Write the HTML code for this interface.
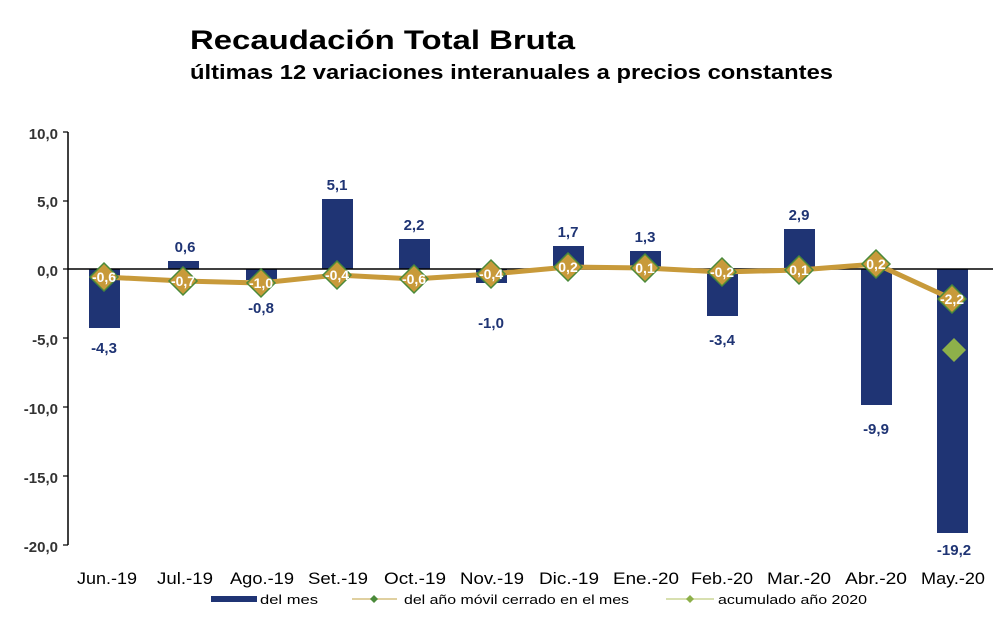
<!DOCTYPE html>
<html><head><meta charset="utf-8"><style>
body{margin:0;background:#fff;}
svg text{font-family:"Liberation Sans",Arial,sans-serif;}
</style></head><body>
<svg width="1000" height="618" xmlns="http://www.w3.org/2000/svg">
<text x="190" y="49" font-size="27" font-weight="bold" fill="#000" textLength="385" lengthAdjust="spacingAndGlyphs">Recaudación Total Bruta</text>
<text x="190" y="79" font-size="20" font-weight="bold" fill="#000" textLength="643" lengthAdjust="spacingAndGlyphs">últimas 12 variaciones interanuales a precios constantes</text>
<g font-size="15" font-weight="bold" fill="#333" text-anchor="end">
<text x="58" y="139">10,0</text><text x="58" y="207">5,0</text><text x="58" y="276">0,0</text>
<text x="58" y="345">-5,0</text><text x="58" y="414">-10,0</text><text x="58" y="483">-15,0</text><text x="58" y="552">-20,0</text>
</g>
<line x1="68" y1="132" x2="68" y2="545" stroke="#000" stroke-width="1.5"/>
<g stroke="#000" stroke-width="1.2">
<line x1="63" y1="132" x2="68" y2="132"/><line x1="63" y1="201" x2="68" y2="201"/><line x1="63" y1="269" x2="68" y2="269"/><line x1="63" y1="338" x2="68" y2="338"/><line x1="63" y1="407" x2="68" y2="407"/><line x1="63" y1="476" x2="68" y2="476"/><line x1="63" y1="545" x2="68" y2="545"/>
</g>
<g fill="#1f3474">
<rect x="89" y="269" width="31" height="59"/>
<rect x="168" y="261" width="31" height="8"/>
<rect x="246" y="269" width="31" height="11"/>
<rect x="322" y="199" width="31" height="70"/>
<rect x="399" y="239" width="31" height="30"/>
<rect x="476" y="269" width="31" height="14"/>
<rect x="553" y="246" width="31" height="23"/>
<rect x="630" y="251" width="31" height="18"/>
<rect x="707" y="269" width="31" height="47"/>
<rect x="784" y="229" width="31" height="40"/>
<rect x="861" y="269" width="31" height="136"/>
<rect x="937" y="269" width="31" height="264"/>
</g>
<line x1="68" y1="269" x2="993" y2="269" stroke="#000" stroke-width="1.5"/>
<polyline fill="none" stroke="#c89a3a" stroke-width="5" points="104,277 183,281 261,283 337,275 414,279 491,274 568,267 645,268 722,272 799,270 876,264 952,299"/>
<g fill="#c89a3a" stroke="#4a8a3a" stroke-width="1.5">
<path d="M104,263 l14,14 l-14,14 l-14,-14z"/><path d="M183,267 l14,14 l-14,14 l-14,-14z"/><path d="M261,269 l14,14 l-14,14 l-14,-14z"/><path d="M337,261 l14,14 l-14,14 l-14,-14z"/><path d="M414,265 l14,14 l-14,14 l-14,-14z"/><path d="M491,260 l14,14 l-14,14 l-14,-14z"/><path d="M568,253 l14,14 l-14,14 l-14,-14z"/><path d="M645,254 l14,14 l-14,14 l-14,-14z"/><path d="M722,258 l14,14 l-14,14 l-14,-14z"/><path d="M799,256 l14,14 l-14,14 l-14,-14z"/><path d="M876,250 l14,14 l-14,14 l-14,-14z"/><path d="M952,285 l14,14 l-14,14 l-14,-14z"/>
</g>
<path d="M954,338 l12,12 l-12,12 l-12,-12z" fill="#8db04a"/>
<g font-size="14" font-weight="bold" fill="#fff" text-anchor="middle">
<text x="104" y="282">-0,6</text><text x="183" y="286">-0,7</text><text x="261" y="288">-1,0</text><text x="337" y="280">-0,4</text><text x="414" y="284">-0,6</text><text x="491" y="279">-0,4</text><text x="568" y="272">0,2</text><text x="645" y="273">0,1</text><text x="722" y="277">-0,2</text><text x="799" y="275">0,1</text><text x="876" y="269">0,2</text><text x="952" y="304">-2,2</text>
</g>
<g font-size="15" font-weight="bold" fill="#1f3474" text-anchor="middle">
<text x="104" y="353">-4,3</text><text x="185" y="252">0,6</text><text x="261" y="313">-0,8</text><text x="337" y="190">5,1</text><text x="414" y="230">2,2</text><text x="491" y="328">-1,0</text><text x="568" y="237">1,7</text><text x="645" y="242">1,3</text><text x="722" y="345">-3,4</text><text x="799" y="220">2,9</text><text x="876" y="434">-9,9</text><text x="954" y="555">-19,2</text>
</g>
<g font-size="17" fill="#000" text-anchor="middle">
<text x="107" y="584" textLength="60" lengthAdjust="spacingAndGlyphs">Jun.-19</text><text x="185" y="584" textLength="56" lengthAdjust="spacingAndGlyphs">Jul.-19</text><text x="262" y="584" textLength="64" lengthAdjust="spacingAndGlyphs">Ago.-19</text><text x="338" y="584" textLength="60" lengthAdjust="spacingAndGlyphs">Set.-19</text><text x="415" y="584" textLength="62" lengthAdjust="spacingAndGlyphs">Oct.-19</text><text x="492" y="584" textLength="64" lengthAdjust="spacingAndGlyphs">Nov.-19</text><text x="569" y="584" textLength="60" lengthAdjust="spacingAndGlyphs">Dic.-19</text><text x="646" y="584" textLength="66" lengthAdjust="spacingAndGlyphs">Ene.-20</text><text x="722" y="584" textLength="62" lengthAdjust="spacingAndGlyphs">Feb.-20</text><text x="799" y="584" textLength="64" lengthAdjust="spacingAndGlyphs">Mar.-20</text><text x="876" y="584" textLength="62" lengthAdjust="spacingAndGlyphs">Abr.-20</text><text x="953" y="584" textLength="64" lengthAdjust="spacingAndGlyphs">May.-20</text>
</g>
<rect x="211" y="596" width="46" height="6" fill="#1f3474"/>
<text x="260" y="604" font-size="13" fill="#000" textLength="58" lengthAdjust="spacingAndGlyphs">del mes</text>
<line x1="352" y1="599" x2="397" y2="599" stroke="#e0d0a0" stroke-width="2"/>
<path d="M374,595 l4,4 l-4,4 l-4,-4z" fill="#4a8a3a"/>
<text x="404" y="604" font-size="13" fill="#000" textLength="225" lengthAdjust="spacingAndGlyphs">del año móvil cerrado en el mes</text>
<line x1="666" y1="599" x2="714" y2="599" stroke="#d8e0b0" stroke-width="2"/>
<path d="M690,595 l4,4 l-4,4 l-4,-4z" fill="#8db04a"/>
<text x="718" y="604" font-size="13" fill="#000" textLength="149" lengthAdjust="spacingAndGlyphs">acumulado año 2020</text>
</svg>
</body></html>
